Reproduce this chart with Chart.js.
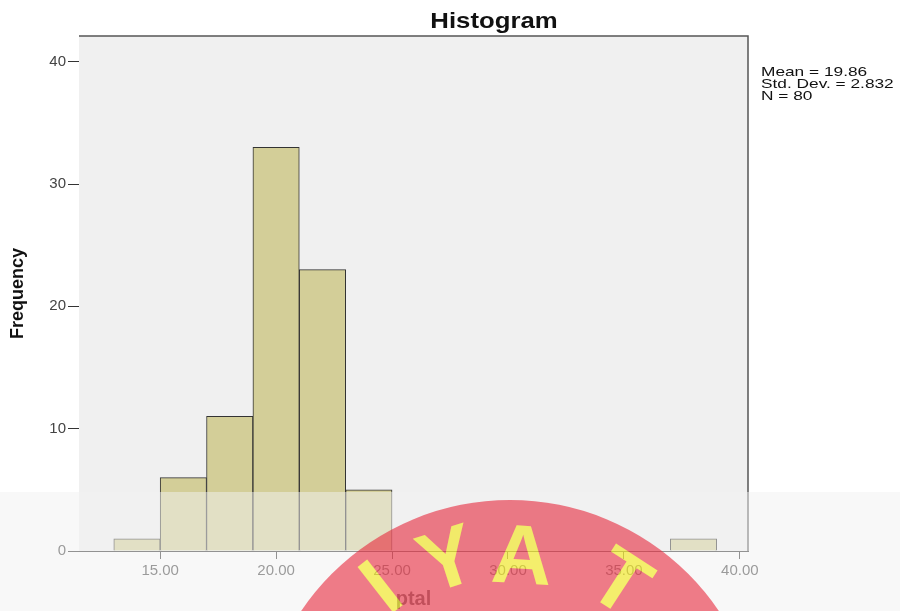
<!DOCTYPE html>
<html lang="en">
<head>
  <meta charset="UTF-8" />
  <title>Histogram</title>
  <script src="https://cdn.jsdelivr.net/npm/chart.js"></script>
  <style>
    html, body {
      margin: 0;
      padding: 0;
      background: #ffffff;
    }
    #wrap {
      width: 900px;
      height: 611px;
    }
  </style>
</head>
<body>
  <div id="wrap"><canvas id="histChart" width="900" height="611"></canvas></div>

  <script>
    // bins of width 2 (centres) and their counts
    const binCenters = [14, 16, 18, 20, 22, 24, 38];
    const frequencies = [1, 6, 11, 33, 23, 5, 1];
    const xTicks = [15, 20, 25, 30, 35, 40];
    const yTicks = [0, 10, 20, 30, 40];
    const statLines = ['Mean = 19.86', 'Std. Dev. = 2.832', 'N = 80'];
    const stampLetters = ['I', 'Y', 'A', 'T'];
    const stampAngles = [-38, -18, 3.5, 33];
    const stampRadii = [205, 198, 192, 198];

    const FONT = "'Liberation Sans', Arial, sans-serif";

    function stretchText(ctx, text, x, y, sx, align) {
      ctx.save();
      ctx.translate(x, y);
      ctx.scale(sx, 1);
      ctx.textAlign = align;
      ctx.fillText(text, 0, 0);
      ctx.restore();
    }

    const plotBg = {
      id: 'plotBg',
      beforeDatasetsDraw(chart) {
        const { ctx, chartArea: a } = chart;
        ctx.save();
        ctx.fillStyle = '#f0f0f0';
        ctx.fillRect(a.left, a.top, a.right - a.left, a.bottom - a.top);
        ctx.restore();
      },
      afterDatasetsDraw(chart) {
        const { ctx, chartArea: a } = chart;
        ctx.save();
        ctx.strokeStyle = '#555';
        ctx.lineWidth = 1.5;
        ctx.beginPath();
        ctx.moveTo(a.left, a.top);
        ctx.lineTo(a.right, a.top);
        ctx.lineTo(a.right, a.bottom);
        ctx.stroke();
        ctx.restore();
      }
    };

    const labels = {
      id: 'labels',
      afterDraw(chart) {
        const ctx = chart.ctx;
        ctx.save();
        ctx.fillStyle = '#111';
        ctx.textBaseline = 'alphabetic';
        ctx.font = 'bold 22px ' + FONT;
        stretchText(ctx, 'Histogram', 494, 28, 1.17, 'center');
        ctx.font = '13.5px ' + FONT;
        statLines.forEach((t, i) => stretchText(ctx, t, 761, 76 + i * 11.8, 1.28, 'left'));
        ctx.restore();

        // stamp: light band, then a red seal with letters, see-through
        ctx.save();
        ctx.fillStyle = 'rgba(241,241,241,0.5)';
        ctx.fillRect(0, 492, 900, 119);
        ctx.restore();

        const off = document.createElement('canvas');
        off.width = 900;
        off.height = 611;
        const o = off.getContext('2d');
        o.fillStyle = 'rgb(231,40,60)';
        o.beginPath();
        o.arc(510, 752, 252, 0, Math.PI * 2);
        o.fill();
        o.fillStyle = 'rgb(242,231,15)';
        o.font = 'bold 84px ' + FONT;
        o.textAlign = 'center';
        o.textBaseline = 'middle';
        stampLetters.forEach((l, i) => {
          o.save();
          o.translate(510, 752);
          o.rotate(stampAngles[i] * Math.PI / 180);
          o.fillText(l, 0, -stampRadii[i]);
          o.restore();
        });
        ctx.save();
        ctx.globalAlpha = 0.6;
        ctx.drawImage(off, 0, 0);
        ctx.restore();
      }
    };

    new Chart(document.getElementById('histChart'), {
      type: 'bar',
      data: {
        datasets: [{
          label: 'Frequency',
          data: binCenters.map((c, i) => ({ x: c, y: frequencies[i] })),
          backgroundColor: '#d3ce98',
          borderColor: '#333',
          borderWidth: 1,
          barPercentage: 1,
          categoryPercentage: 1
        }]
      },
      options: {
        responsive: false,
        animation: false,
        layout: { padding: { top: 36, right: 152, left: 0, bottom: 0 } },
        plugins: {
          legend: { display: false },
          tooltip: { enabled: false }
        },
        scales: {
          x: {
            type: 'linear',
            min: 11.5,
            max: 40.35,
            offset: false,
            afterFit: s => { s.height = 60; },
            afterBuildTicks: s => { s.ticks = xTicks.map(v => ({ value: v })); },
            grid: { offset: false, drawOnChartArea: false, tickLength: 8, color: '#333' },
            border: { color: '#333', width: 1 },
            ticks: {
              color: '#444',
              padding: 3,
              maxRotation: 0,
              font: { family: FONT, size: 15 },
              callback: v => Number(v).toFixed(2)
            },
            title: {
              display: true,
              text: 'ptal',
              color: '#222',
              font: { family: FONT, size: 20, weight: 'bold' },
              padding: { top: 0, bottom: 0 }
            }
          },
          y: {
            min: 0,
            max: 42.1,
            afterFit: s => { s.width = 79; },
            afterBuildTicks: s => { s.ticks = yTicks.map(v => ({ value: v })); },
            grid: { drawOnChartArea: false, tickLength: 11, color: '#333' },
            border: { color: '#333', width: 1 },
            ticks: {
              color: '#444',
              padding: 2,
              font: { family: FONT, size: 15 }
            },
            title: {
              display: true,
              text: 'Frequency',
              color: '#111',
              font: { family: FONT, size: 18, weight: 'bold' },
              padding: { top: 7, bottom: 0 }
            }
          }
        }
      },
      plugins: [plotBg, labels]
    });
  </script>
</body>
</html>
